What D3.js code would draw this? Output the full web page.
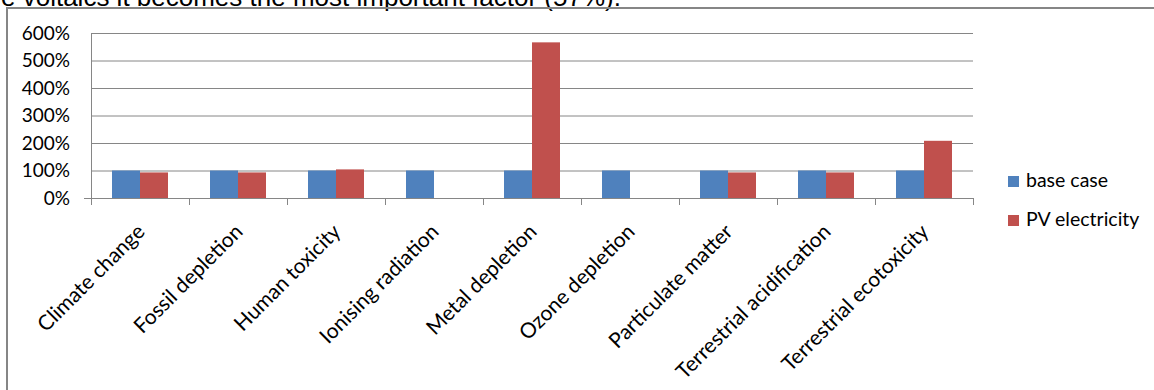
<!DOCTYPE html>
<html>
<head>
<meta charset="utf-8">
<script src="https://cdn.jsdelivr.net/npm/d3@7/dist/d3.min.js"></script>
<style>
  html, body { margin: 0; padding: 0; background: #fff; overflow: hidden; }
  svg { display: block; }
</style>
</head>
<body>
<svg id="chart" width="1154" height="390"></svg>
<script>
// Impact categories along the x axis
const categories = [
  "Climate change", "Fossil depletion", "Human toxicity", "Ionising radiation",
  "Metal depletion", "Ozone depletion", "Particulate matter",
  "Terrestrial acidification", "Terrestrial ecotoxicity"
];
// Series names (legend order)
const seriesNames = ["base case", "PV electricity"];
// Relative impact (1 = 100 %) per category
const baseCase      = [1, 1, 1, 1, 1, 1, 1, 1, 1];
const pvElectricity = [0.93, 0.93, 1.04, null, 5.66, null, 0.93, 0.93, 2.08];
// Y axis ticks
const yTicks = [0, 1, 2, 3, 4, 5, 6];
// Paragraph text running above the chart frame
const paragraphTail = "e voltaics it becomes the most important factor (57%).";

const colors = { "base case": "#4F81BD", "PV electricity": "#C0504D" };
const gridColor = "#868686";
const chartFont = "Lato, 'Open Sans', sans-serif";

const svg = d3.select("#chart");

// Document text cut by the top of the view
svg.append("text")
  .attr("x", 1).attr("y", 6)
  .attr("font-family", "'Liberation Sans', Arial, sans-serif")
  .attr("font-size", 26)
  .attr("fill", "#000")
  .text(paragraphTail);

// Chart frame
svg.append("rect")
  .attr("x", 7).attr("y", 8)
  .attr("width", 1160).attr("height", 400)
  .attr("fill", "none")
  .attr("stroke", gridColor)
  .attr("stroke-width", 2);

const plot = { left: 91, right: 973, top: 33, bottom: 198 };

const x = d3.scaleBand()
  .domain(categories)
  .range([plot.left, plot.right])
  .padding(0);

const x1 = d3.scaleBand()
  .domain(seriesNames)
  .range([0, x.bandwidth()])
  .paddingInner(0)
  .paddingOuter(0.75);

const y = d3.scaleLinear()
  .domain([0, 6])
  .range([plot.bottom, plot.top]);

// Gridlines + y labels
const yAxis = d3.axisLeft(y)
  .tickValues(yTicks)
  .tickFormat(d3.format(".0%"))
  .tickSizeInner(-(plot.right - plot.left))
  .tickSizeOuter(0)
  .tickPadding(21);

const gy = svg.append("g")
  .attr("transform", `translate(${plot.left},0)`)
  .call(yAxis);
gy.select(".domain").attr("stroke", gridColor).attr("stroke-width", 1);
gy.selectAll(".tick line").attr("stroke", gridColor).attr("stroke-width", 1);
gy.selectAll(".tick text")
  .attr("font-family", chartFont)
  .attr("font-size", 19)
  .attr("fill", "#000");

// Bars
const data = categories.map((c, i) => ({
  category: c,
  values: [
    { series: seriesNames[0], value: baseCase[i] },
    { series: seriesNames[1], value: pvElectricity[i] }
  ]
}));

svg.append("g").selectAll("g")
  .data(data)
  .join("g")
  .attr("transform", d => `translate(${x(d.category)},0)`)
  .selectAll("rect")
  .data(d => d.values.filter(v => v.value != null))
  .join("rect")
  .attr("x", d => x1(d.series))
  .attr("width", x1.bandwidth())
  .attr("y", d => y(d.value))
  .attr("height", d => y(0) - y(d.value))
  .attr("fill", d => colors[d.series]);

// X axis line with boundary ticks
const gx = svg.append("g").attr("transform", `translate(0,${plot.bottom})`);
gx.append("line")
  .attr("x1", plot.left - 7).attr("x2", plot.right)
  .attr("y1", 0.5).attr("y2", 0.5)
  .attr("stroke", gridColor);
const boundaries = categories.map(c => x(c)).concat([plot.right]);
gx.selectAll("line.tick")
  .data(boundaries)
  .join("line")
  .attr("class", "tick")
  .attr("x1", d => Math.round(d) + 0.5).attr("x2", d => Math.round(d) + 0.5)
  .attr("y1", 0).attr("y2", 7)
  .attr("stroke", gridColor);

// Rotated category labels
svg.append("g").selectAll("text")
  .data(categories)
  .join("text")
  .attr("transform", c => `translate(${x(c) + x.bandwidth() / 2 + 6},233) rotate(-45)`)
  .attr("text-anchor", "end")
  .attr("font-family", chartFont)
  .attr("font-size", 21)
  .attr("fill", "#000")
  .text(c => c);

// Legend
const legend = svg.append("g").attr("transform", "translate(1008,0)");
const legendRows = [176, 215];
seriesNames.forEach((s, i) => {
  legend.append("rect")
    .attr("x", 0).attr("y", legendRows[i])
    .attr("width", 11).attr("height", 11)
    .attr("fill", colors[s]);
  legend.append("text")
    .attr("x", 18).attr("y", legendRows[i] + 11)
    .attr("font-family", chartFont)
    .attr("font-size", 19.5)
    .attr("fill", "#000")
    .text(s);
});
</script>
</body>
</html>
